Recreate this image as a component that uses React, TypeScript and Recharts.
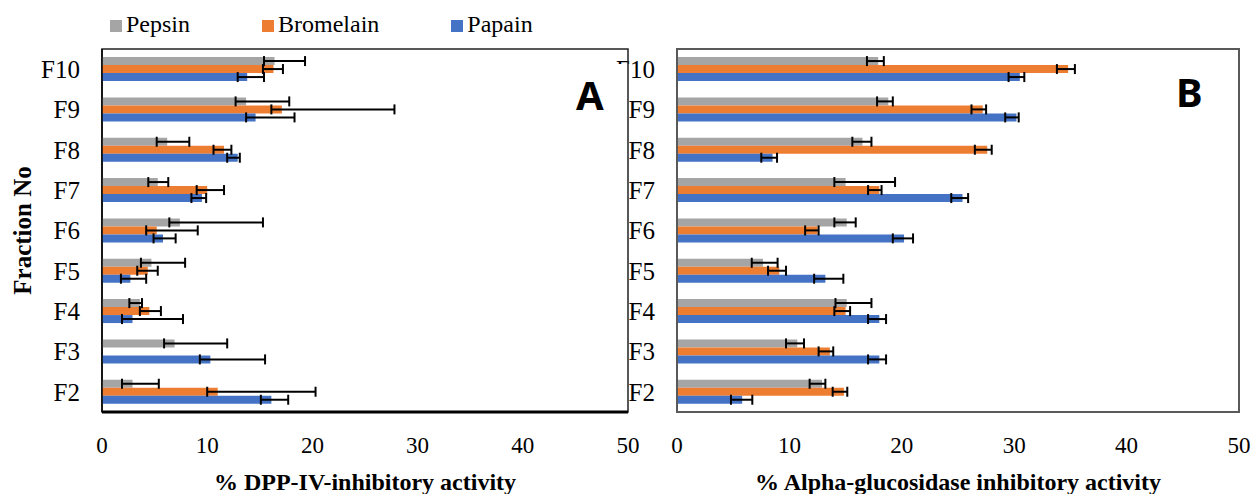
import React from 'react';
import { BarChart, Bar, XAxis, YAxis, ErrorBar, Legend, ReferenceArea } from 'recharts';

const fractions = ['F10', 'F9', 'F8', 'F7', 'F6', 'F5', 'F4', 'F3', 'F2'];
const xTicks = [0, 10, 20, 30, 40, 50];
const seriesNames = ['Pepsin', 'Bromelain', 'Papain'];
const seriesColors = ['#A5A5A5', '#ED7D31', '#4472C4'];

// Panel A: % DPP-IV-inhibitory activity
const pepsinA = [16.4, 13.7, 6.2, 5.3, 7.4, 4.7, 3.6, 6.9, 2.9];
const pepsinALow = [1.0, 1.0, 1.0, 0.9, 1.0, 1.0, 1.0, 1.0, 1.0];
const pepsinAHigh = [2.9, 4.1, 2.1, 1.0, 7.9, 3.2, 0.2, 5.0, 2.5];
const bromelainA = [16.3, 17.1, 11.6, 10.0, 5.2, 4.35, 4.5, null, 11.0];
const bromelainALow = [1.0, 1.0, 1.0, 1.0, 1.0, 1.0, 0.9, null, 1.0];
const bromelainAHigh = [0.9, 10.7, 0.7, 1.6, 3.9, 0.95, 1.1, null, 9.3];
const papainA = [13.8, 14.6, 12.9, 9.5, 5.8, 2.7, 2.9, 10.3, 16.1];
const papainALow = [0.9, 0.9, 1.0, 1.0, 0.9, 0.9, 1.0, 1.0, 1.0];
const papainAHigh = [1.6, 3.7, 0.2, 0.4, 1.2, 1.5, 4.8, 5.2, 1.6];

// Panel B: % Alpha-glucosidase inhibitory activity
const pepsinB = [17.9, 18.8, 16.5, 15.0, 15.1, 7.65, 15.1, 10.7, 12.9];
const pepsinBLow = [1.0, 1.0, 0.9, 1.0, 1.1, 1.0, 1.0, 1.0, 1.1];
const pepsinBHigh = [0.5, 0.4, 0.8, 4.4, 0.8, 1.3, 2.2, 0.6, 0.3];
const bromelainB = [34.8, 27.2, 27.6, 18.0, 12.5, 9.1, 15.0, 13.6, 14.85];
const bromelainBLow = [1.0, 1.0, 1.1, 1.0, 1.1, 1.0, 1.0, 1.0, 1.0];
const bromelainBHigh = [0.6, 0.3, 0.4, 0.2, 0.1, 0.6, 0.4, 0.3, 0.3];
const papainB = [30.5, 30.2, 8.5, 25.4, 20.2, 13.2, 18.0, 18.0, 5.8];
const papainBLow = [1.0, 1.0, 1.0, 1.0, 1.0, 1.0, 1.0, 1.0, 1.0];
const papainBHigh = [0.4, 0.2, 0.4, 0.5, 0.8, 1.6, 0.6, 0.6, 0.9];

const err = (lo: (number | null)[], hi: (number | null)[], i: number) =>
  lo[i] == null || hi[i] == null ? null : [lo[i], hi[i]];

const dataA = fractions.map((name, i) => ({
  name,
  pepsin: pepsinA[i],
  pepsinErr: err(pepsinALow, pepsinAHigh, i),
  bromelain: bromelainA[i],
  bromelainErr: err(bromelainALow, bromelainAHigh, i),
  papain: papainA[i],
  papainErr: err(papainALow, papainAHigh, i),
}));

const dataB = fractions.map((name, i) => ({
  name,
  pepsin: pepsinB[i],
  pepsinErr: err(pepsinBLow, pepsinBHigh, i),
  bromelain: bromelainB[i],
  bromelainErr: err(bromelainBLow, bromelainBHigh, i),
  papain: papainB[i],
  papainErr: err(papainBLow, papainBHigh, i),
}));

const keys = ['pepsin', 'bromelain', 'papain'];
const SERIF = "'Liberation Serif', 'Times New Roman', serif";
const SANS = "'Noto Sans', 'Open Sans', sans-serif";
const W = 1255;
const H = 494;

const renderBars = () =>
  keys.map((k, i) => (
    <Bar key={k} dataKey={k} name={seriesNames[i]} fill={seriesColors[i]} isAnimationActive={false}>
      <ErrorBar dataKey={k + 'Err'} direction="x" stroke="#000" strokeWidth={2} width={5} isAnimationActive={false} />
    </Bar>
  ));

const yTitle = (props: any) => {
  const vb = props.viewBox;
  const x = vb.x + 22;
  const y = vb.y + vb.height / 2;
  return (
    <text x={x} y={y} transform={`rotate(-90, ${x}, ${y})`} textAnchor="middle" dominantBaseline="central"
      style={{ fontFamily: SERIF, fontSize: 25, fontWeight: 700, fill: '#000' }}>
      Fraction No
    </text>
  );
};

const legendFormatter = (value: string) => (
  <span style={{ color: '#000', fontFamily: SERIF, fontSize: 24, marginRight: 62 }}>{value}</span>
);

const legendOrder = (item: any) => seriesNames.indexOf(item.value);

const tickStyle = { fontFamily: SERIF, fontSize: 23, fill: '#000' };
const catTickStyle = { fontFamily: SERIF, fontSize: 25, fill: '#000' };
const titleStyle = { fontFamily: SERIF, fontSize: 24, fontWeight: 700, fill: '#000' };

export default function App() {
  return (
    <div style={{ position: 'absolute', left: 0, top: 0, width: W, height: H, background: '#fff', overflow: 'hidden' }}>
      <div style={{ position: 'absolute', left: 0, top: 0 }}>
        <BarChart width={W} height={H} data={dataB} layout="vertical" barCategoryGap="20%" barGap={0}
          margin={{ top: 49, right: 16, bottom: 0, left: 575 }}>
          <ReferenceArea x1={0} x2={50} fill="none" stroke="#595959" strokeWidth={2} />
          <XAxis type="number" domain={[0, 50]} ticks={xTicks} tickLine={false} height={82} tickMargin={19}
            axisLine={{ stroke: '#595959', strokeWidth: 2 }}
            tick={tickStyle}
            label={{ value: '% Alpha-glucosidase inhibitory activity', position: 'insideBottom', offset: 4, style: titleStyle }} />
          <YAxis type="category" dataKey="name" width={102} tickLine={false} tickMargin={16}
            axisLine={{ stroke: '#595959', strokeWidth: 2 }}
            tick={catTickStyle} />
          {renderBars()}
        </BarChart>
      </div>
      <div style={{ position: 'absolute', left: 1176, top: 72, fontFamily: SANS, fontWeight: 700, fontSize: 40, lineHeight: '40px', color: '#000' }}>B</div>
      <div style={{ position: 'absolute', left: 560, top: 64, width: 72, height: 36, background: '#fff' }} />
      <div style={{ position: 'absolute', left: 576, top: 75, fontFamily: SANS, fontWeight: 700, fontSize: 40, lineHeight: '40px', color: '#000' }}>A</div>
      <div style={{ position: 'absolute', left: 0, top: 0 }}>
        <BarChart width={W} height={H} data={dataA} layout="vertical" barCategoryGap="20%" barGap={0}
          margin={{ top: 21, right: 627, bottom: 0, left: 0 }}>
          <Legend verticalAlign="top" align="left" iconType="square" iconSize={12} formatter={legendFormatter}
            itemSorter={legendOrder} height={28}
            wrapperStyle={{ left: 110, top: 10, height: 28, lineHeight: '28px', fontFamily: SERIF, fontSize: 24 }} />
          <ReferenceArea x1={0} x2={50} fill="none" stroke="#222" strokeWidth={1.5} />
          <XAxis type="number" domain={[0, 50]} ticks={xTicks} tickLine={false} height={82} tickMargin={19}
            axisLine={{ stroke: '#000', strokeWidth: 3 }}
            tick={tickStyle}
            label={{ value: '% DPP-IV-inhibitory activity', position: 'insideBottom', offset: 4, style: titleStyle }} />
          <YAxis type="category" dataKey="name" width={102} tickLine={false} tickMargin={16}
            axisLine={{ stroke: '#000', strokeWidth: 1.5 }}
            tick={catTickStyle}
            label={{ content: yTitle }} />
          {renderBars()}
        </BarChart>
      </div>
    </div>
  );
}
